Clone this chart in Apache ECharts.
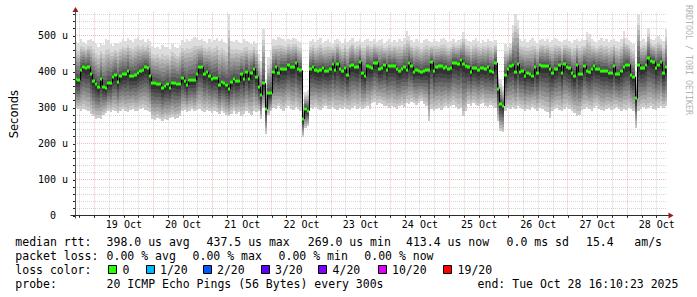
<!DOCTYPE html>
<html><head><meta charset="utf-8">
<script src="https://cdn.jsdelivr.net/npm/echarts@6/dist/echarts.min.js"></script>
<style>html,body{margin:0;padding:0;background:#fff}#c{width:697px;height:297px}</style>
</head><body><div id="c"></div>
<script>
// ---- data (hours since 18 Oct 00:00; one consolidated point per hour, values in microseconds) ----
const startHour = 16.1731;          // Tue Oct 18 16:10:23
const stepHours = 1;
const medianRtt = [
 380,378,405,414,410,413,393,375,365,358, 380,358,355,370,370,385,390,372,388,393,
 393,402,388,388,390,396,402,405,413,410, 389,369,369,366,366,355,360,365,356,370,
 370,367,367,384,374,363,377,377,377,394, 413,413,394,400,389,380,384,384,362,372,
 369,363,353,372,381,375,375,394,379,400, 381,396,409,386,358,335,368,297,340,340,
 400,413,396,407,409,409,419,413,413,425, 407,404,269,297,292,407,413,404,402,404,
 410,402,402,408,423,404,423,407,402,410, 391,415,419,413,413,427,397,389,415,413,
 410,425,425,407,410,420,404,415,415,415, 407,402,407,413,404,425,415,400,404,402,
 399,402,404,404,428,402,413,415,415,410, 412,407,410,425,425,422,432,423,415,413,
 399,410,410,404,410,410,407,413,403,400, 425,353,310,305,391,407,417,419,400,422,
 399,402,389,397,395,389,412,398,419,415, 415,417,409,396,407,407,419,398,422,413,
 410,396,389,418,394,394,417,402,399,408, 415,408,408,403,402,402,396,397,415,393,
 393,402,412,420,420,391,386,326,420,410, 410,420,437.5,430,428,410,420,428,396,413.4
];
const maxRtt = [
 486,480,490,484,478,488,492,486,476,470, 480,474,490,488,478,472,480,476,484,490,
 486,494,488,482,490,496,488,492,484,490, 486,472,466,470,462,474,468,470,464,476,
 470,466,474,488,484,492,486,490,498,494, 488,492,486,480,490,484,488,494,486,490,
 484,480,560,486,482,488,484,480,490,486, 482,478,486,480,450,430,520,380,440,460,
 492,488,496,494,490,486,492,488,494,490, 486,484,310,345,350,486,490,482,488,494,
 480,486,490,484,478,488,492,486,480,490, 484,488,494,482,486,490,484,488,492,486,
 486,490,484,488,492,480,486,490,482,488, 484,490,486,494,512,500,488,484,490,486,
 480,488,492,486,482,490,486,484,490,494, 488,482,486,490,484,488,492,510,490,486,
 482,488,494,486,480,488,484,490,486,482, 488,395,380,360,476,470,480,530,560,545,
 492,486,490,484,488,494,486,480,488,492, 486,490,484,488,494,490,486,482,488,492,
 486,480,488,490,486,492,488,510,504,490, 486,482,488,494,486,490,484,488,492,486,
 482,490,512,494,488,484,478,400,560,486, 490,484,522,492,488,494,500,490,486,520
];
const minRtt = [
 300,296,292,298,294,290,284,276,270,272, 268,280,286,292,288,294,290,286,292,296,
 290,288,294,298,292,290,296,300,294,290, 288,270,266,272,268,264,270,266,272,274,
 268,272,276,290,294,288,292,296,290,294, 298,292,288,294,290,286,292,288,284,290,
 286,280,276,284,290,282,288,278,284,290, 286,280,292,288,290,270,300,228,280,290,
 300,296,304,298,292,300,306,298,294,302, 296,290,220,245,250,300,296,302,298,294,
 300,304,298,296,302,298,294,300,296,302, 298,294,300,306,298,302,296,300,304,298,
 312,316,308,314,310,306,304,300,306,302, 298,304,308,302,314,310,316,312,308,314,
 318,310,306,262,298,292,296,300,294,302, 306,300,304,308,302,298,300,276,290,310,
 306,312,308,304,310,314,306,302,308,304, 300,262,236,232,292,300,296,302,298,304,
 300,296,290,298,294,302,296,290,300,296, 292,288,272,290,296,300,294,290,298,302,
 296,292,286,276,280,294,298,302,296,292, 300,304,298,294,290,296,300,294,298,302,
 296,292,298,294,300,296,290,245,290,298, 302,296,300,304,298,294,300,306,300,304
];
const dayLabels = ['19 Oct','20 Oct','21 Oct','22 Oct','23 Oct','24 Oct','25 Oct','26 Oct','27 Oct','28 Oct'];
const dayNoonHours = [36,60,84,108,132,156,180,204,228,252];
const yTickValues = [0,100,200,300,400,500];
const lossLabels = ['0','1/20','2/20','3/20','4/20','10/20','19/20'];
const lossColors = ['#26ff00','#00b8ff','#0059ff','#5e00ff','#7e00ff','#dd00ff','#ff0000'];
const statsLine = ['median rtt:','398.0 us avg','437.5 us max','269.0 us min','413.4 us now','0.0 ms sd','15.4','am/s'];
const lossLine = ['packet loss:','0.00 % avg','0.00 % max','0.00 % min','0.00 % now'];
const probeLine = ['probe:','20 ICMP Echo Pings (56 Bytes) every 300s','end: Tue Oct 28 16:10:23 2025'];

// ---- layout ----
const Y_MAX = 565, N = medianRtt.length;
const MONO = '"DejaVu Sans Mono", monospace';
const SMOKE_POW = 1.0;

const smokeData = medianRtt.map((m, i) => [startHour + i * stepHours, m, minRtt[i], maxRtt[i]]);
const medData = medianRtt.map((m, i) => [startHour + i * stepHours, m, i > 0 ? medianRtt[i - 1] : m]);

const gridData = [];
for (let h = Math.ceil(startHour / 6) * 6; h < startHour + N * stepHours; h += 6) gridData.push([0, h, h % 24 === 0 ? 1 : 0]);
for (let v = 20; v <= 560; v += 20) gridData.push([1, v, v % 100 === 0 ? 1 : 0]);
const xTickHours = gridData.filter(d => d[0] === 0).map(d => d[1]);
const yMinorTicks = gridData.filter(d => d[0] === 1).map(d => d[1]).concat([0]);

function grayOf(j) { const g = 50 + 19 * Math.min(9, Math.abs(10 - j)); return 'rgb(' + g + ',' + g + ',' + g + ')'; }

function renderSmoke(params, api) {
  const t = api.value(0), med = api.value(1), lo = api.value(2), hi = api.value(3);
  const x0 = Math.round(api.coord([t, 0])[0]);
  const x1 = Math.round(api.coord([t + stepHours, 0])[0]);
  const p = [];
  for (let r = 1; r <= 20; r++) {
    const u = (r - 10.5) / 9.5, f = Math.pow(Math.abs(u), SMOKE_POW);
    p.push(u < 0 ? med - (med - lo) * f : med + (hi - med) * f);
  }
  const children = [];
  for (let j = 2; j <= 20; j++) {
    const yTop = Math.round(api.coord([t, p[j - 1]])[1]);
    const yBot = Math.round(api.coord([t, p[j - 2]])[1]);
    if (yBot > yTop) children.push({ type: 'rect', shape: { x: x0, y: yTop, width: x1 - x0, height: yBot - yTop }, style: { fill: grayOf(j) } });
  }
  return { type: 'group', children };
}
function renderMedian(params, api) {
  const t = api.value(0), med = api.value(1), prev = api.value(2);
  const x0 = Math.round(api.coord([t, 0])[0]);
  const x1 = Math.round(api.coord([t + stepHours, 0])[0]);
  const y = api.coord([t, med])[1], yp = api.coord([t, prev])[1];
  const children = [];
  if (Math.abs(y - yp) > 1) children.push({ type: 'rect', shape: { x: x0, y: Math.min(y, yp), width: 1, height: Math.abs(y - yp) }, style: { fill: '#000' } });
  children.push({ type: 'rect', shape: { x: x0, y: Math.round(y) - 1.5, width: x1 - x0, height: 3 }, style: { fill: lossColors[0] } });
  return { type: 'group', children };
}
function renderGrid(params, api) {
  const axis = api.value(0), v = api.value(1), major = api.value(2);
  const cs = params.coordSys;
  const style = { stroke: major ? 'rgba(225,90,90,0.4)' : 'rgba(150,150,150,0.4)', lineWidth: 1, lineDash: [1, 1] };
  if (axis === 0) {
    const x = Math.floor(api.coord([v, 0])[0]) + 0.5;
    return { type: 'line', shape: { x1: x, y1: cs.y, x2: x, y2: cs.y + cs.height }, style };
  }
  const y = Math.floor(api.coord([startHour, v])[1]) + 0.5;
  return { type: 'line', shape: { x1: cs.x, y1: y, x2: cs.x + cs.width, y2: y }, style };
}

const chart = echarts.init(document.getElementById('c'), null, { renderer: 'svg', width: 697, height: 297 });
chart.setOption({
  animation: false,
  backgroundColor: '#fff',
  grid: { left: 67, right: 30, top: 12.4, bottom: 81.2 },
  xAxis: {
    type: 'value', min: startHour, max: startHour + N * stepHours,
    axisLine: { show: false }, splitLine: { show: false },
    axisTick: { show: true, customValues: xTickHours, length: 2, lineStyle: { color: '#222' } },
    axisLabel: { customValues: dayNoonHours, formatter: v => dayLabels[dayNoonHours.indexOf(Math.round(v))] || '',
      fontFamily: MONO, fontSize: 10, color: '#000', margin: 4 }
  },
  yAxis: {
    type: 'value', min: 0, max: Y_MAX, interval: 100,
    axisLine: { show: false }, splitLine: { show: false },
    axisTick: { show: true, customValues: yMinorTicks, length: 2, lineStyle: { color: '#222' } },
    axisLabel: { customValues: yTickValues, formatter: v => v === 0 ? '{z|0}' : v + ' u',
      fontFamily: MONO, fontSize: 10, color: '#000', margin: 7,
      rich: { z: { fontFamily: MONO, fontSize: 10, color: '#000', padding: [0, 12, 0, 0] } } },
    name: 'Seconds', nameLocation: 'middle', nameRotate: 90, nameGap: 55,
    nameTextStyle: { fontFamily: '"DejaVu Sans"', fontSize: 11.5, color: '#000' }
  },
  series: [
    { type: 'custom', name: 'grid', renderItem: renderGrid, data: gridData, z: 1, silent: true },
    { type: 'custom', name: 'smoke', renderItem: renderSmoke, data: smokeData, z: 2, silent: true, clip: true },
    { type: 'custom', name: 'median', renderItem: renderMedian, data: medData, z: 3, silent: true, clip: true }
  ]
});

// ---- axes, arrows, legend text ----
const pO = chart.convertToPixel({ gridIndex: 0 }, [startHour, 0]);
const pE = chart.convertToPixel({ gridIndex: 0 }, [startHour + N * stepHours, Y_MAX]);
const ax = Math.floor(pO[0]) + 0.5, ay = Math.floor(pO[1]) + 0.5;
const axisColor = '#2c2c2c', arrowColor = '#9a1b1b';
const g = [];
g.push({ type: 'line', shape: { x1: ax, y1: ay + 3, x2: ax, y2: pE[1] - 1 }, style: { stroke: '#555', lineWidth: 1 }, z: 10 });
g.push({ type: 'line', shape: { x1: ax - 5, y1: ay, x2: pE[0] + 2, y2: ay }, style: { stroke: axisColor, lineWidth: 1 }, z: 10 });
g.push({ type: 'polygon', shape: { points: [[ax - 3, pE[1] - 0.5], [ax + 3, pE[1] - 0.5], [ax, pE[1] - 5.5]] }, style: { fill: arrowColor }, z: 11 });
g.push({ type: 'polygon', shape: { points: [[pE[0] + 1.5, ay - 3], [pE[0] + 1.5, ay + 3], [pE[0] + 6.5, ay]] }, style: { fill: arrowColor }, z: 11 });

const font = '11.5px ' + MONO;
function txt(x, y, s) { g.push({ type: 'text', x: x - 0.7, y: y, style: { text: s, font: font, fill: '#000', textVerticalAlign: 'middle' }, z: 12 }); }
const statX = [16, 107.3, 207.3, 308.5, 406.7, 507.3, 586.7, 635];
statsLine.forEach((s, i) => txt(statX[i], 242, s));
const lossX = [16, 107.3, 193.3, 279.3, 365];
lossLine.forEach((s, i) => txt(lossX[i], 256, s));
txt(16, 270, 'loss color:');
const boxX = [108.3, 145.7, 202.7, 260.7, 318.3, 377.7, 443.3];
lossLabels.forEach((s, i) => {
  g.push({ type: 'rect', shape: { x: Math.round(boxX[i]) + 0.5, y: 265.5, width: 8, height: 8 }, style: { fill: lossColors[i], stroke: '#000', lineWidth: 1 }, z: 12 });
  txt(boxX[i] + 15, 270, s);
});
const probeX = [16, 107.3, 478.3];
probeLine.forEach((s, i) => txt(probeX[i], 284, s));
g.push({ type: 'text', x: 688.5, y: 60, rotation: -Math.PI / 2,
  style: { text: 'RRDTOOL / TOBI OETIKER', font: '8.3px ' + MONO, fill: '#b4b4b4', textAlign: 'center', textVerticalAlign: 'middle' }, z: 12 });
chart.setOption({ graphic: g });
</script></body></html>
